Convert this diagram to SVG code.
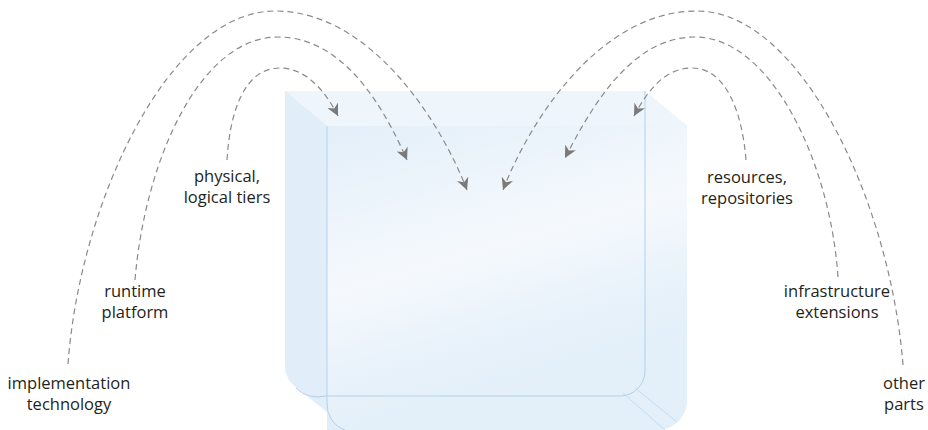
<svg xmlns="http://www.w3.org/2000/svg" width="928" height="430" viewBox="0 0 928 430">
<style>
.lbl{font-family:"Open Sans","Liberation Sans",sans-serif;font-size:16.5px;fill:#231f20;text-anchor:middle}
.arc{fill:none;stroke:#8a8a8a;stroke-width:1.2;stroke-dasharray:6 4;marker-end:url(#ah)}
.edge{fill:none;stroke:#b3d1e8;stroke-width:1}
</style>
<defs>
<marker id="ah" markerUnits="userSpaceOnUse" markerWidth="12" markerHeight="12" refX="10" refY="5" orient="auto" viewBox="0 0 10 10">
<path d="M0,0 L10,5 L0,10 L3,5 Z" fill="#7a7a7a"/>
</marker>
<linearGradient id="glass" x1="0" y1="0" x2="0.35" y2="1">
<stop offset="0" stop-color="#e3eff9"/>
<stop offset="0.5" stop-color="#f5f9fd"/>
<stop offset="0.8" stop-color="#e6f1fa"/>
<stop offset="1" stop-color="#e3eff9"/>
</linearGradient>
</defs>
<rect width="928" height="430" fill="#ffffff"/>
<g id="box">
<path d="M285,91 H645 L687,126 V400 A30,30 0 0 1 657,430 H350 L297,388 A28,28 0 0 1 285,365 Z" fill="#e3eff9"/>
<path d="M285,91 H645 L687,126 H327 Z" fill="#eef6fc"/>
<path d="M285,91 L327,126 V430 H350 L297,388 A28,28 0 0 1 285,365 Z" fill="#e1edf8"/>
<path d="M327,126 H687 V400 A30,30 0 0 1 657,430 H352 A25,25 0 0 1 327,405 Z" fill="url(#glass)"/>
<path class="edge" d="M645,91 V371 A25,25 0 0 1 620,396 H325 A30,30 0 0 1 296,388"/>
<path class="edge" d="M327,126 V403 A27,27 0 0 0 345,430" stroke="#a9c8e0"/>
<path d="M623,393 L665,430 M635,388 L677,422" fill="none" stroke="#c3def2" stroke-width="1"/>
</g>
<g id="connectors">
<path class="arc" d="M68,364 C80,200 170,11 275,11 C370,11 440,120 467,190"/>
<path class="arc" d="M135,280 C145,160 200,37 278,37 C345,37 385,110 407,160"/>
<path class="arc" d="M227,160 C230,110 245,68 280,68 C305,68 325,90 338,116"/>
<path class="arc" d="M903,365 C890,200 800,11 697,11 C600,11 530,120 503,190"/>
<path class="arc" d="M838,277 C830,160 770,37 695,37 C630,37 590,110 565,158"/>
<path class="arc" d="M746,160 C742,110 725,68 692,68 C665,68 648,90 634,116"/>
</g>
<g id="physical-tiers"><text class="lbl" x="227" y="182">physical,</text><text class="lbl" x="227" y="203">logical tiers</text></g>
<g id="runtime-platform"><text class="lbl" x="135" y="297">runtime</text><text class="lbl" x="135" y="318">platform</text></g>
<g id="implementation-technology"><text class="lbl" x="69" y="389">implementation</text><text class="lbl" x="69" y="410">technology</text></g>
<g id="resources-repositories"><text class="lbl" x="747" y="183">resources,</text><text class="lbl" x="747" y="204">repositories</text></g>
<g id="infrastructure-extensions"><text class="lbl" x="837" y="297">infrastructure</text><text class="lbl" x="837" y="318">extensions</text></g>
<g id="other-parts"><text class="lbl" x="904" y="389">other</text><text class="lbl" x="904" y="410">parts</text></g>
</svg>
